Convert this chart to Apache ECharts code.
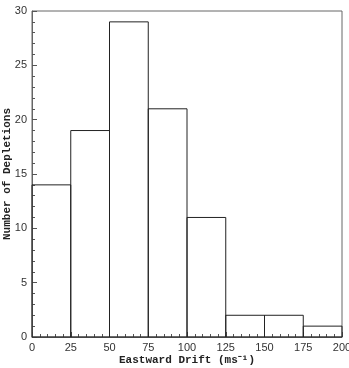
<!DOCTYPE html>
<html><head><meta charset="utf-8">
<script src="https://cdn.jsdelivr.net/npm/echarts@6/dist/echarts.min.js"></script>
<style>html,body{margin:0;padding:0;background:#fff}#c{width:349px;height:368px}</style>
</head><body><div id="c"></div>
<script>
const binStarts = [0, 25, 50, 75, 100, 125, 150, 175];
const binWidth = 25;
const counts = [14, 19, 29, 21, 11, 2, 2, 1];
const xTicks = [0, 25, 50, 75, 100, 125, 150, 175, 200];
const yTicks = [0, 5, 10, 15, 20, 25, 30];

const chart = echarts.init(document.getElementById('c'));
const data = binStarts.map((s, i) => [s, s + binWidth, counts[i]]);
chart.setOption({
  animation: false,
  grid: {left: 32, top: 11, right: 7, bottom: 31, containLabel: false, outerBoundsMode: 'none', show: true, borderColor: '#666', borderWidth: 1, backgroundColor: 'transparent'},
  xAxis: {
    type: 'value', min: 0, max: 200, interval: 25,
    name: 'Eastward Drift (ms\u207B\u00B9)', nameLocation: 'middle', nameGap: 18, nameMoveOverlap: false,
    nameTextStyle: {fontFamily: 'Liberation Mono', fontWeight: 'bold', fontSize: 11, color: '#222'},
    axisLine: {show: true, lineStyle: {color: '#666'}},
    axisTick: {show: true, inside: true, length: 5, lineStyle: {color: '#555'}},
    minorTick: {show: true, splitNumber: 5, length: 3, lineStyle: {color: '#555'}},
    splitLine: {show: false},
    axisLabel: {fontFamily: 'Liberation Sans', fontSize: 11, color: '#333', margin: 5}
  },
  yAxis: {
    type: 'value', min: 0, max: 30, interval: 5,
    name: 'Number of Depletions', nameLocation: 'middle', nameGap: 19, nameMoveOverlap: false,
    nameTextStyle: {fontFamily: 'Liberation Mono', fontWeight: 'bold', fontSize: 11, color: '#222'},
    axisLine: {show: true, lineStyle: {color: '#666'}},
    axisTick: {show: true, inside: true, length: 5, lineStyle: {color: '#555'}},
    minorTick: {show: true, splitNumber: 5, length: 3, lineStyle: {color: '#555'}},
    splitLine: {show: false},
    axisLabel: {fontFamily: 'Liberation Sans', fontSize: 11, color: '#333', margin: 5}
  },
  series: [{
    type: 'custom',
    data: data,
    renderItem: function (params, api) {
      const p0 = api.coord([api.value(0), 0]);
      const p1 = api.coord([api.value(1), api.value(2)]);
      return {
        type: 'rect',
        shape: {x: p0[0], y: p1[1], width: p1[0] - p0[0], height: p0[1] - p1[1]},
        style: {fill: 'none', stroke: '#222', lineWidth: 1}
      };
    }
  }]
});
</script></body></html>
